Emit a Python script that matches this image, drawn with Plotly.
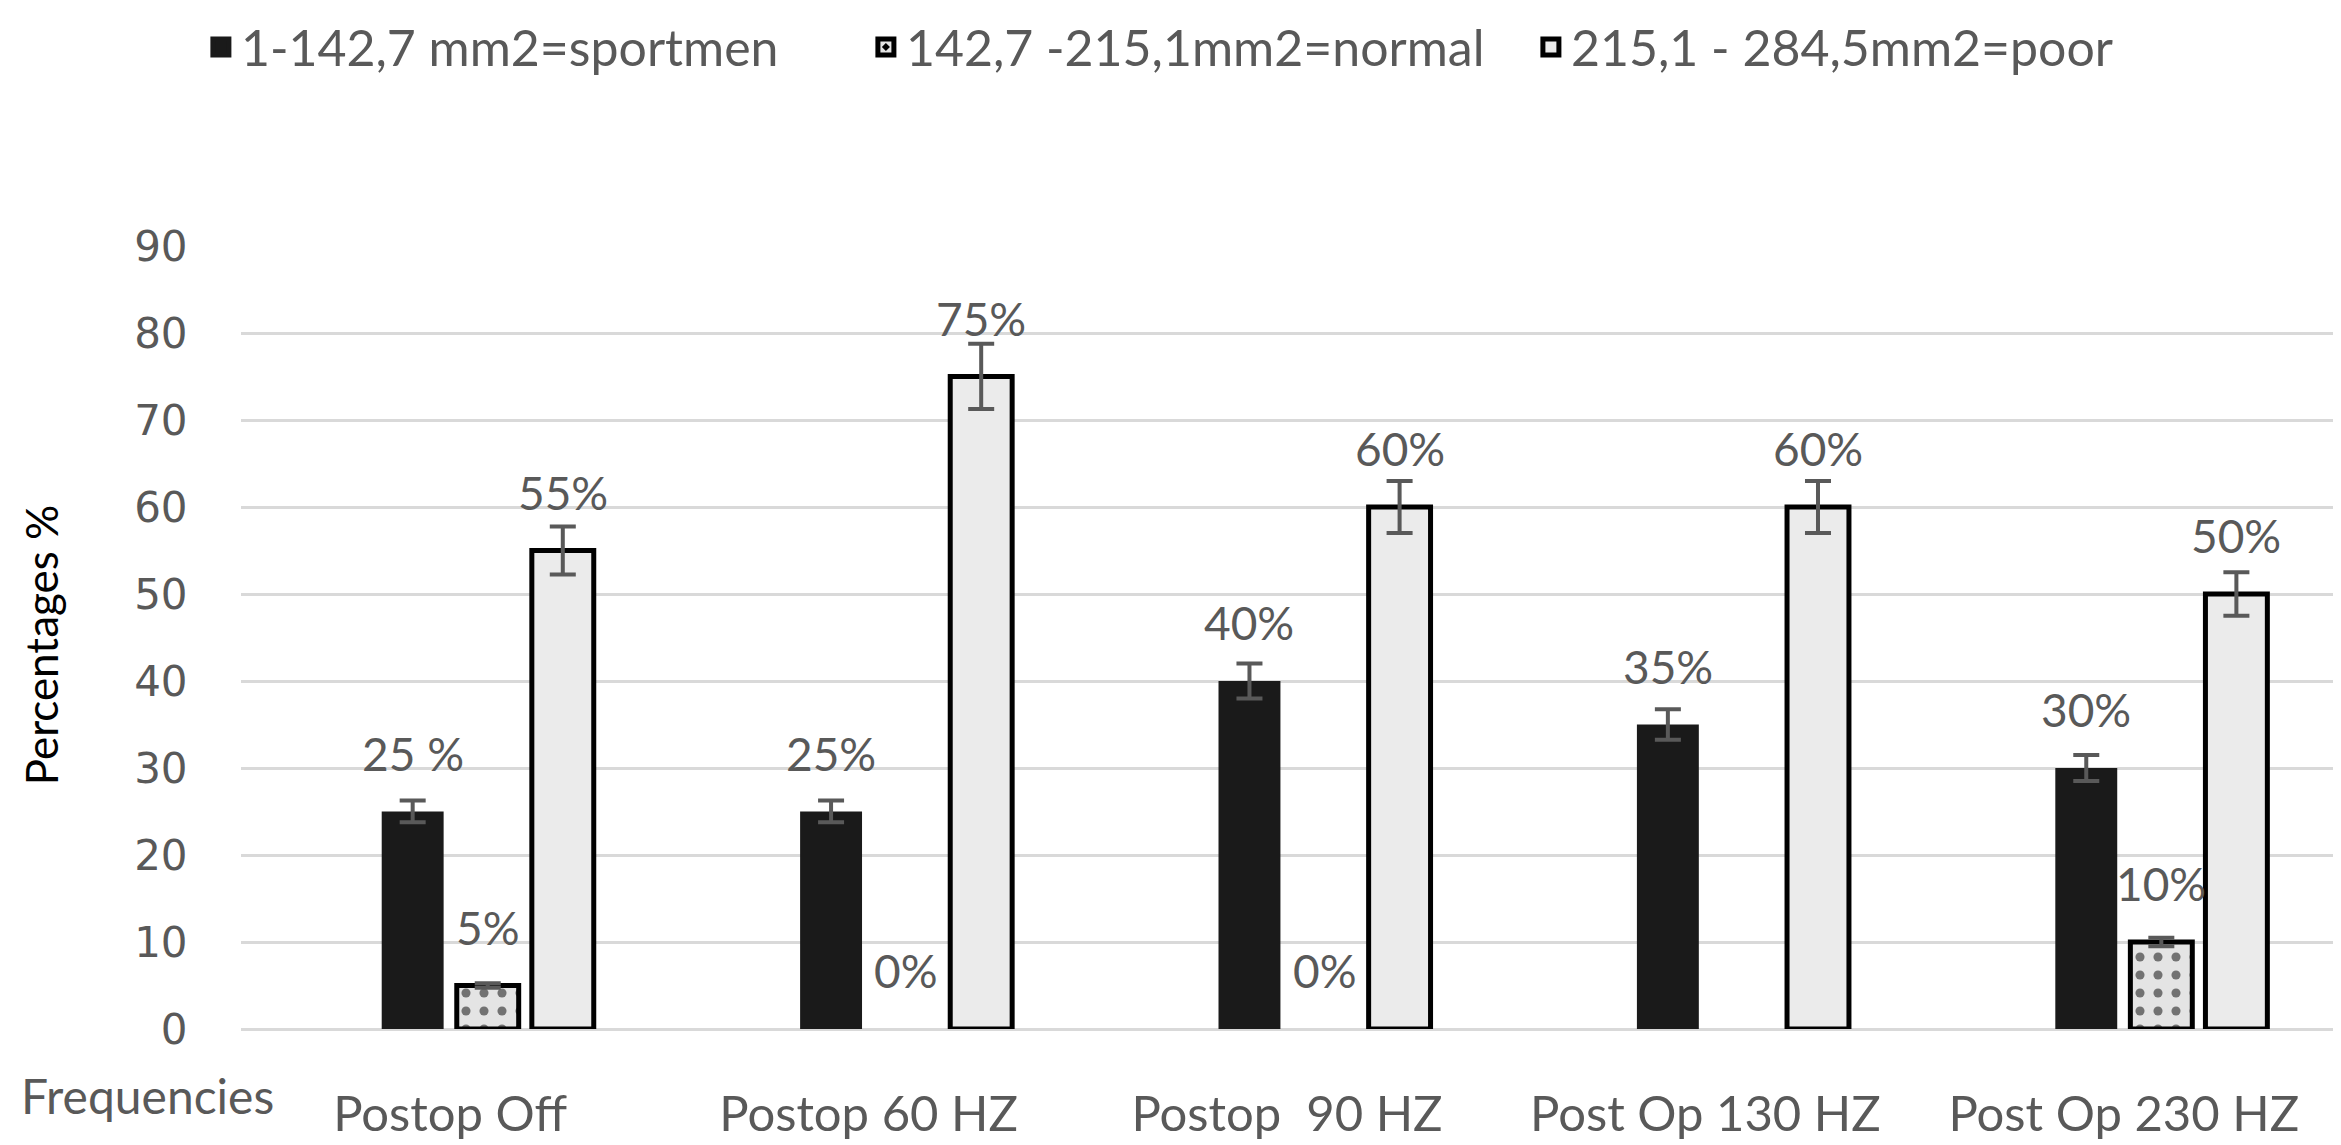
import plotly.graph_objects as go

categories = ["Postop Off", "Postop 60 HZ", "Postop\u00a0 90 HZ", "Post Op 130 HZ", "Post Op 230 HZ"]
series_names = ["1-142,7 mm2=sportmen", "142,7 -215,1mm2=normal", "215,1 - 284,5mm2=poor"]

sportmen = [25, 25, 40, 35, 30]
normal = [5, 0, 0, None, 10]
poor = [55, 75, 60, 60, 50]

sportmen_err = [1.25, 1.25, 2.0, 1.75, 1.5]
normal_err = [0.25, 0, 0, 0, 0.5]
poor_err = [2.75, 3.75, 3.0, 3.0, 2.5]

sportmen_labels = ["25 %", "25%", "40%", "35%", "30%"]
normal_labels = ["5%", "0%", "0%", "", "10%"]
poor_labels = ["55%", "75%", "60%", "60%", "50%"]

y_ticks = [0, 10, 20, 30, 40, 50, 60, 70, 80, 90]

FONT = "Lato"
GRAY = "#595959"

# bar geometry (category units)
pitch = 0.1794
bar_w = 0.148
inset = (pitch - bar_w) / 2
offsets = [-pitch + inset, inset, pitch + inset]

styles = [
    dict(color="#1a1a1a", line=dict(color="#1a1a1a", width=0)),
    dict(color="#e4e4e4",
         pattern=dict(shape=".", fgcolor="#000000", bgcolor="#e4e4e4", size=18, solidity=0.2),
         line=dict(color="#000000", width=5)),
    dict(color="#ebebeb", line=dict(color="#000000", width=5)),
]
legend_markers = [
    dict(symbol="square", size=16, color="#1a1a1a", line=dict(color="#1a1a1a", width=5)),
    dict(symbol="square-dot", size=16, color="#e4e4e4", line=dict(color="#000000", width=5)),
    dict(symbol="square", size=16, color="#ebebeb", line=dict(color="#000000", width=5)),
]


def bar_y(vals):
    return [v if v else None for v in vals]


fig = go.Figure()

for name, vals, errs, off, st in zip(series_names, [sportmen, normal, poor],
                                     [sportmen_err, normal_err, poor_err], offsets, styles):
    fig.add_trace(go.Bar(
        name=name, x=categories, y=bar_y(vals), width=bar_w, offset=off,
        marker=st, showlegend=False,
        error_y=dict(type="data", array=errs, visible=True, color=GRAY, thickness=4, width=13),
    ))

# legend entries
for name, mk in zip(series_names, legend_markers):
    fig.add_trace(go.Scatter(name=name, x=[None], y=[None], mode="markers", marker=mk,
                             showlegend=True, hoverinfo="skip"))

annotations = []
for vals, labels, off in [(sportmen, sportmen_labels, offsets[0]),
                          (normal, normal_labels, offsets[1]),
                          (poor, poor_labels, offsets[2])]:
    for i, (v, t) in enumerate(zip(vals, labels)):
        if v is None or t == "":
            continue
        annotations.append(dict(
            x=i + off + bar_w / 2, y=v, xref="x", yref="y",
            text=t, showarrow=False, yanchor="bottom", xanchor="center", yshift=29,
            font=dict(family=FONT, size=46, color=GRAY),
        ))

annotations.append(dict(
    x=-0.0956, y=0.49, xref="paper", yref="paper", text="Percentages %",
    textangle=-90, showarrow=False, xanchor="center", yanchor="middle",
    font=dict(family=FONT, size=44, color="#000000"),
))
annotations.append(dict(
    x=-0.106, y=-0.085, xref="paper", yref="paper", text="Frequencies",
    showarrow=False, xanchor="left", yanchor="middle",
    font=dict(family=FONT, size=48, color=GRAY),
))

fig.update_layout(
    width=2341, height=1145,
    margin=dict(l=233, r=16, t=238, b=100),
    paper_bgcolor="white", plot_bgcolor="white",
    barmode="group",
    font=dict(family=FONT, color=GRAY),
    showlegend=True,
    legend=dict(orientation="h", xref="container", yref="container",
                x=0.0824, y=0.966, xanchor="left", yanchor="middle",
                entrywidth=620, entrywidthmode="pixels",
                font=dict(family=FONT, size=50, color=GRAY), itemclick=False),
    annotations=annotations,
    xaxis=dict(categoryorder="array", categoryarray=categories, tickfont=dict(family=FONT, size=49, color=GRAY),
               ticks="outside", ticklen=42, tickcolor="rgba(0,0,0,0)", showline=False, showgrid=False),
    yaxis=dict(range=[0, 90], tickvals=y_ticks, tickfont=dict(family="DejaVu Sans", size=42, color=GRAY),
               ticks="outside", ticklen=44, tickcolor="rgba(0,0,0,0)",
               showgrid=True, gridcolor="#d9d9d9", gridwidth=3,
               zeroline=True, zerolinecolor="#d9d9d9", zerolinewidth=3, showline=False),
)

fig.write_html("out.html")
